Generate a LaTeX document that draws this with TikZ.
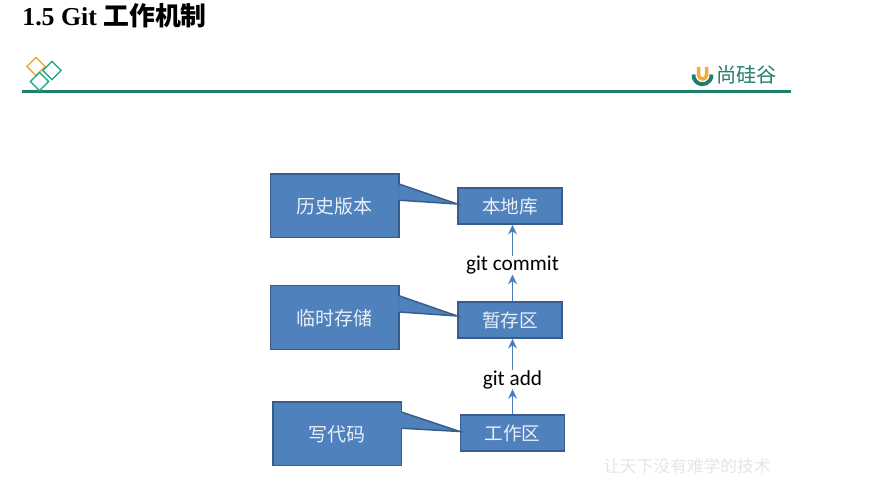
\documentclass[tikz,border=0pt]{standalone}
\usepackage{fontspec}
\setmainfont{Liberation Serif}
\newfontfamily\cjk{Noto Sans CJK SC}
\newfontfamily\carlito{Carlito}
\usetikzlibrary{shapes.geometric, arrows.meta, positioning, calc}
\definecolor{boxblue}{RGB}{79, 129, 189}
\definecolor{boxedge}{RGB}{56, 93, 138}
\definecolor{arrblue}{RGB}{74, 126, 187}
\definecolor{rulegreen}{RGB}{31, 127, 106}
\definecolor{markgreen}{RGB}{42, 168, 140}
\definecolor{markorange}{RGB}{240, 170, 60}
\begin{document}
\begin{tikzpicture}[
    areabox/.style={rectangle, draw=boxedge, line width=0.85pt, fill=boxblue, minimum width=2.08cm, minimum height=0.72cm, inner sep=0pt, font=\cjk\fontsize{10.6}{12}\selectfont, text=white!88!boxblue},
    notebox/.style={rectangle, draw=boxedge, line width=0.85pt, fill=boxblue, minimum width=2.57cm, minimum height=1.27cm, inner sep=0pt, text height=0.36cm, text depth=0.045cm, font=\cjk\fontsize{10.8}{12}\selectfont, text=white!88!boxblue},
    lbl/.style={font=\carlito\fontsize{12.1}{14}\selectfont, text=black, inner sep=0pt, minimum height=0.36cm},
    arr/.style={-{Stealth[length=5.5pt, width=5pt]}, line width=0.85pt, arrblue},
    petal/.style={diamond, draw=#1, line width=0.8pt, minimum size=0.38cm, inner sep=0pt}
]
\useasboundingbox (0,0) rectangle (17.42,9.9);

% ── Header ──
\node[anchor=west, inner sep=0pt, font=\bfseries\fontsize{14.7}{16}\selectfont] (title) at (0.44, 9.59) {1.5 Git {\cjk\bfseries 工作机制}};
\draw[rulegreen, line width=2pt] (0.44, 8.07) -- (15.82, 8.07);

% Left mark
\node[petal=markorange] (p1) at (0.72, 8.57) {};
\node[petal=markgreen] (p2) at (1.04, 8.49) {};
\node[petal=markgreen] (p3) at (0.79, 8.27) {};

% Right mark
\draw[rulegreen, line width=2.2pt] (13.87, 8.41) arc[start angle=175, end angle=365, radius=0.18];
\draw[markorange, line width=2pt] (13.97, 8.56) -- (13.97, 8.40) arc[start angle=180, end angle=360, radius=0.08] -- (14.13, 8.56);
\node[anchor=west, inner sep=0pt, text=rulegreen, font=\cjk\fontsize{11.5}{13}\selectfont] (brand) at (14.32, 8.4) {尚硅谷};

% ── Stages ──
\node[areabox] (local) at (10.2, 5.78) {本地库};
\node[areabox] (stage) at (10.2, 3.5) {暂存区};
\node[areabox] (work) at (10.25, 1.24) {工作区};

% Commands
\node[lbl] (commit) at (10.25, 4.6) {git commit};
\node[lbl] (add) at (10.25, 2.31) {git add};

% Arrows between stages
\draw[arr] (stage.north -| commit) -- (commit);
\draw[arr] (commit) -- (commit |- local.south);
\draw[arr] (work.north -| add) -- (add);
\draw[arr] (add) -- (add |- stage.south);

% ── Notes ──
\node[notebox] (history) at (6.695, 5.785) {历史版本};
\node[notebox] (temp) at (6.695, 3.55) {临时存储};
\node[notebox] (code) at (6.74, 1.225) {写代码};

% Wedges from the notes to the stages
\foreach \note/\area/\lift in {history/local/0.04, temp/stage/0.08, code/work/0.03} {
    \fill[boxblue] ($(\note.north east)+(-0.03,-0.22)$) -- ($(\area.west)+(0,\lift)$) -- ($(\note.north east)+(-0.03,-0.54)$) -- cycle;
    \draw[boxedge, line width=0.85pt] ($(\note.north east)+(0,-0.22)$) -- ($(\area.west)+(0,\lift)$) -- ($(\note.north east)+(0,-0.54)$);
}

% Slogan
\node[text=black!10, inner sep=0pt, font=\cjk\fontsize{9.5}{11}\selectfont] (slogan) at (13.74, 0.58) {让天下没有难学的技术};

\end{tikzpicture}
\end{document}
